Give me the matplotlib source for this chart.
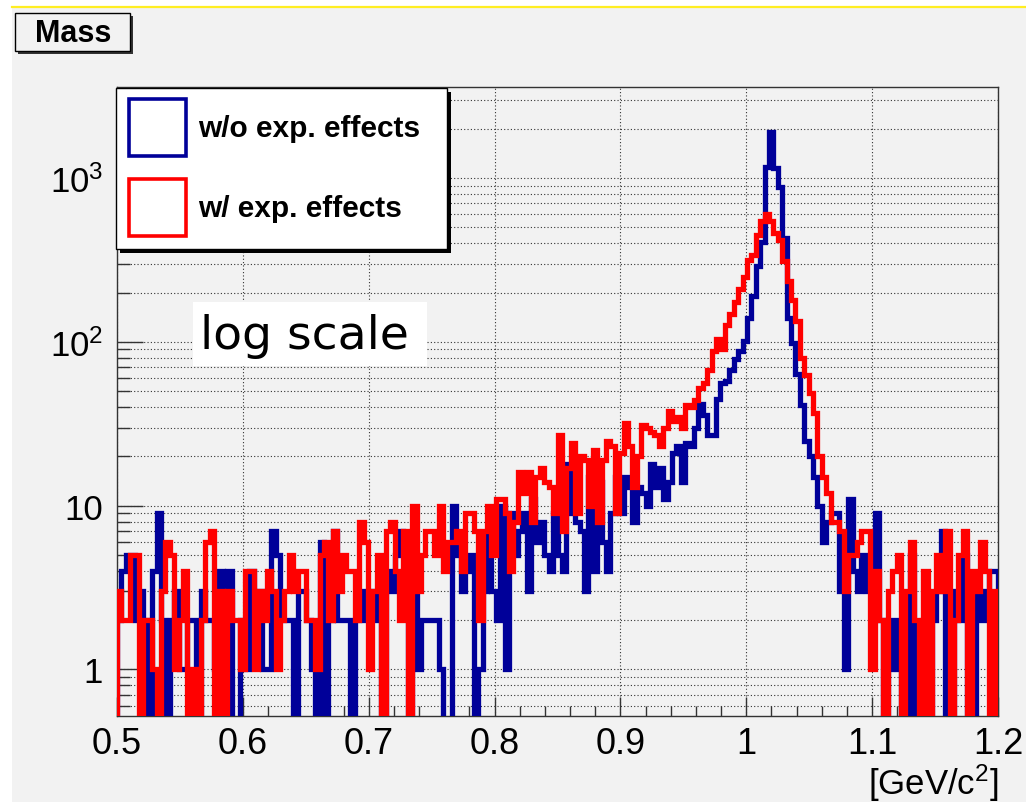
import numpy as np
import matplotlib
matplotlib.use('Agg')
import matplotlib.pyplot as plt
from matplotlib.patches import Rectangle
from matplotlib.lines import Line2D
from matplotlib.ticker import MultipleLocator, FixedLocator, FuncFormatter, LogLocator, NullFormatter

plt.rcParams['font.family'] = ['Liberation Sans', 'DejaVu Sans']
plt.rcParams['mathtext.fontset'] = 'custom'
plt.rcParams['mathtext.rm'] = 'Liberation Sans'
plt.rcParams['mathtext.it'] = 'Liberation Sans:italic'

# 200 bins between 0.5 and 1.2 GeV/c^2
x_min, x_max, n_bins = 0.5, 1.2, 200

# counts per bin, no experimental effects
mass_true = [
    2, 4, 5, 5, 2, 3, 2, 0, 4, 9,
    2, 0, 2, 3, 1, 1, 2, 2, 0, 3,
    2, 2, 1, 4, 0, 4, 0, 0, 2, 1,
    4, 2, 3, 1, 1, 7, 5, 2, 2, 2,
    0, 3, 3, 2, 1, 0, 6, 0, 2, 7,
    2, 2, 2, 0, 2, 3, 2, 3, 3, 2,
    0, 4, 3, 5, 7, 5, 0, 5, 1, 2,
    2, 2, 2, 1, 0, 0, 10, 5, 3, 4,
    5, 0, 1, 3, 7, 3, 2, 10, 1, 9,
    5, 7, 9, 3, 11, 6, 8, 5, 4, 9,
    5, 4, 18, 9, 8, 7, 3, 15, 4, 14,
    6, 4, 9, 15, 9, 15, 13, 8, 13, 12,
    10, 18, 13, 17, 11, 14, 21, 23, 14, 24,
    23, 30, 42, 36, 27, 27, 45, 56, 58, 67,
    79, 88, 101, 140, 190, 290, 410, 1170, 1900, 1150,
    880, 430, 140, 98, 64, 41, 25, 20, 15, 10,
    6, 8, 9, 9, 3, 1, 11, 4, 3, 5,
    3, 4, 9, 2, 0, 1, 2, 1, 0, 0,
    5, 0, 1, 2, 0, 2, 3, 7, 0, 0,
    3, 2, 5, 0, 0, 3, 2, 3, 4, 4,
]

# counts per bin, with experimental effects
mass_reco = [
    3, 2, 2, 5, 5, 0, 2, 2, 1, 0,
    3, 6, 5, 1, 2, 4, 0, 1, 0, 2,
    6, 7, 0, 3, 0, 3, 2, 2, 1, 4,
    4, 1, 3, 2, 4, 3, 1, 2, 3, 5,
    3, 4, 4, 2, 2, 1, 5, 6, 2, 7,
    3, 5, 4, 4, 2, 8, 6, 1, 3, 5,
    0, 7, 8, 4, 2, 7, 0, 10, 3, 5,
    7, 7, 5, 10, 4, 6, 6, 7, 4, 9,
    9, 7, 2, 7, 10, 5, 11, 11, 9, 4,
    8, 16, 12, 16, 8, 15, 17, 14, 13, 9,
    27, 7, 17, 24, 9, 20, 19, 10, 22, 8,
    19, 25, 23, 9, 21, 32, 23, 13, 20, 31,
    30, 28, 27, 23, 30, 38, 33, 35, 30, 41,
    40, 44, 52, 56, 67, 88, 104, 90, 126, 148,
    175, 210, 250, 318, 340, 450, 550, 600, 550, 460,
    420, 310, 235, 180, 135, 80, 63, 49, 37, 20,
    15, 12, 8, 8, 7, 3, 5, 5, 6, 7,
    7, 1, 4, 2, 0, 3, 4, 5, 0, 3,
    6, 2, 0, 4, 0, 3, 5, 3, 7, 0,
    2, 5, 7, 0, 4, 3, 6, 4, 0, 3,
]

labels = ['w/o exp. effects', 'w/ exp. effects']
colors = ['#000099', '#ff0000']
y_ticklabels = {1: '1', 10: '10', 100: '$10^{2}$', 1000: '$10^{3}$'}

W, H = 1026, 803
bg = '#f2f2f2'


def fx(px):
    return px / W


def fy(py):
    return 1 - py / H


fig = plt.figure(figsize=(W / 100, H / 100), dpi=100, facecolor=bg)
# white strips left and top of the canvas, yellow line on top
fig.patches.append(Rectangle((0, 0), fx(12), 1, transform=fig.transFigure,
                             facecolor='white', edgecolor='none', zorder=0))
fig.patches.append(Rectangle((0, fy(8)), 1, 1 - fy(8), transform=fig.transFigure,
                             facecolor='white', edgecolor='none', zorder=0))
fig.lines.append(Line2D([fx(12), 1], [fy(8), fy(8)], transform=fig.transFigure, color='#ffee22', lw=1.6))

ax = fig.add_axes([fx(117), fy(717), fx(998) - fx(117), fy(88) - fy(717)])
ax.set_zorder(2)
ax.set_facecolor(bg)

edges = np.linspace(x_min, x_max, n_bins + 1)
for vals, col in zip([mass_true, mass_reco], colors):
    v = np.array(vals, dtype=float)
    v[v <= 0] = 1e-3
    ax.stairs(v, edges, baseline=1e-3, color=col, lw=3.8, joinstyle='miter', zorder=3)

ax.set_yscale('log')
ax.set_xlim(x_min, x_max)
ax.set_ylim(0.52, 3600)

ax.xaxis.set_major_locator(MultipleLocator(0.1))
ax.xaxis.set_minor_locator(MultipleLocator(0.02))
ax.xaxis.set_major_formatter(FuncFormatter(lambda v, p: '%g' % round(v, 3)))
ax.yaxis.set_major_locator(FixedLocator(list(y_ticklabels.keys())))
ax.yaxis.set_major_formatter(FuncFormatter(lambda v, p: y_ticklabels.get(int(round(v)), '')))
ax.yaxis.set_minor_locator(LogLocator(base=10, subs=np.arange(2, 10), numticks=20))
ax.yaxis.set_minor_formatter(NullFormatter())

ax.tick_params(axis='x', which='major', direction='in', length=14, width=1, pad=7,
               labelsize=26, color='#333333')
ax.tick_params(axis='x', which='minor', direction='in', length=7, width=1, color='#333333')
ax.tick_params(axis='y', which='major', direction='in', length=19, width=1, pad=10,
               labelsize=25, color='#333333')
ax.tick_params(axis='y', which='minor', direction='in', length=9, width=1, color='#333333')
for lab in ax.get_xticklabels():
    lab.set_family(['Liberation Sans Narrow', 'Liberation Sans', 'DejaVu Sans'])

ax.grid(which='both', axis='y', ls=(0, (1, 2)), color='#333333', lw=0.8, zorder=1)
ax.grid(which='major', axis='x', ls=(0, (1, 2)), color='#333333', lw=0.8, zorder=1)
ax.set_axisbelow(True)
for s in ax.spines.values():
    s.set_linewidth(1.0)
    s.set_color('#333333')

ax.text(1.0, -0.073, '[GeV/c$^{2}$]', transform=ax.transAxes, ha='right', va='top', fontsize=25,
        family=['Liberation Sans Narrow', 'Liberation Sans', 'DejaVu Sans'])

# title box
fig.patches.append(Rectangle((fx(18), fy(55)), fx(133) - fx(18), fy(17) - fy(55), transform=fig.transFigure,
                             facecolor='#333333', edgecolor='none', zorder=4))
fig.patches.append(Rectangle((fx(15), fy(52)), fx(130) - fx(15), fy(14) - fy(52), transform=fig.transFigure,
                             facecolor=bg, edgecolor='black', lw=1, zorder=5))
fig.text(fx(73), fy(34), 'Mass', ha='center', va='center', fontsize=22, fontweight='bold', zorder=6)

# legend
fig.patches.append(Rectangle((fx(120), fy(254)), fx(451) - fx(120), fy(93) - fy(254), transform=fig.transFigure,
                             facecolor='black', edgecolor='none', zorder=4))
fig.patches.append(Rectangle((fx(116), fy(250)), fx(447) - fx(116), fy(89) - fy(250), transform=fig.transFigure,
                             facecolor='white', edgecolor='black', lw=1, zorder=5))
for i, (lab, col) in enumerate(zip(labels, colors)):
    top = 100 + 80 * i
    fig.patches.append(Rectangle((fx(129), fy(top + 57)), fx(186) - fx(129), fy(top) - fy(top + 57),
                                 transform=fig.transFigure, facecolor='white', edgecolor=col, lw=2.6, zorder=6))
    fig.text(fx(198), fy(top + 29), lab, ha='left', va='center', fontsize=21.5, fontweight='bold', zorder=6)

# annotation
fig.patches.append(Rectangle((fx(193), fy(367)), fx(427) - fx(193), fy(303) - fy(367), transform=fig.transFigure,
                             facecolor='white', edgecolor='none', zorder=5))
fig.text(fx(200), fy(337), 'log scale', ha='left', va='center', fontsize=34, zorder=6,
         family=['DejaVu Sans'])

fig.savefig('out.png', dpi=100, facecolor=fig.get_facecolor())
